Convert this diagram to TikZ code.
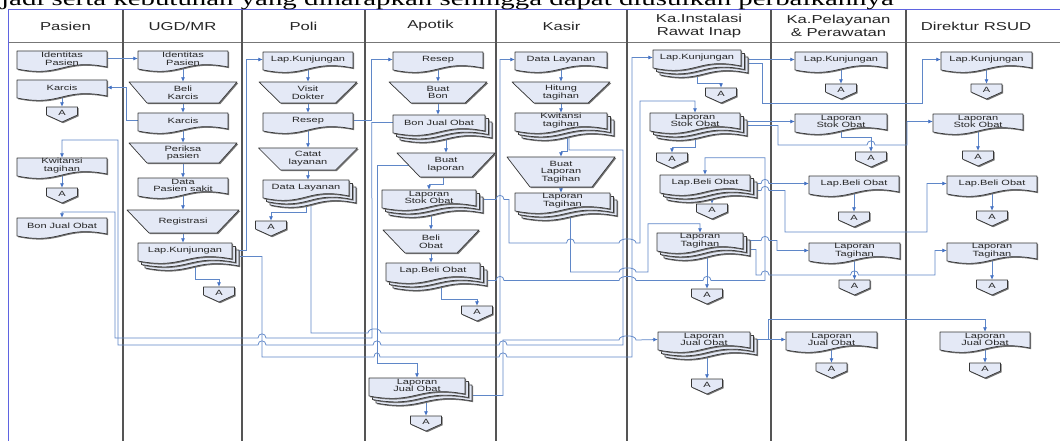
\documentclass[tikz,border=0pt]{standalone}
\usepackage{fontspec}
\setmainfont{Liberation Sans}
\newfontfamily\boxfont{Liberation Sans}[FakeStretch=1.45]
\newfontfamily\titlefont{Liberation Serif}[FakeStretch=1.45]
\usetikzlibrary{arrows.meta,calc}
\pgfdeclarelayer{back}
\pgfsetlayers{back,main}

\definecolor{flowblue}{RGB}{95,135,200}
\definecolor{tipblue}{RGB}{68,114,196}
\definecolor{shapefill}{RGB}{228,233,246}
\definecolor{shapeline}{RGB}{55,55,55}
\definecolor{lanegray}{RGB}{85,85,85}
\definecolor{borderblue}{RGB}{95,100,225}

\tikzset{
  outline/.style={draw=shapeline, line width=0.7pt, fill=shapefill, line join=round},
  shadowed/.style={fill=black!55, draw=none},
  boxtext/.style={font=\boxfont\fontsize{7.6}{7.8}\selectfont, text=black!85, align=center, inner sep=0pt},
  head/.style={font=\boxfont\fontsize{11.5}{12.5}\selectfont, text=black!85, align=center, inner sep=0pt},
  flow/.style={draw=flowblue, line width=0.75pt, -{Latex[length=4.5pt,width=4pt,color=tipblue]}},
  lane/.style={draw=lanegray, line width=1.1pt},
  hopover/.style args={#1/#2/#3}{insert path={-- (#1,#3) .. controls (#1,#3-5.5) and (#2,#3-5.5) .. (#2,#3)}},
}

% document symbol: top-left corner (#1,#2), width #3
\newcommand\docshape[3]{%
  \pgfmathsetmacro\shpXr{#1+#3}%
  \pgfmathsetmacro\shpXm{#1+0.5*#3}%
  \pgfmathsetmacro\shpYr{#2+16}%
  \pgfmathsetmacro\shpYl{#2+18}%
  \pgfmathsetmacro\shpYu{#2+7}%
  \pgfmathsetmacro\shpYd{#2+27}%
  \fill[shadowed,xshift=1.2pt,yshift=-1.2pt] (#1,#2) -- (\shpXr,#2) -- (\shpXr,\shpYr) .. controls (\shpXm,\shpYu) and (\shpXm,\shpYd) .. (#1,\shpYl) -- cycle;
  \path[outline] (#1,#2) -- (\shpXr,#2) -- (\shpXr,\shpYr) .. controls (\shpXm,\shpYu) and (\shpXm,\shpYd) .. (#1,\shpYl) -- cycle;
}
% single document: name, x0, y0, width, text
\newcommand\docnode[5]{%
  \docshape{#2}{#3}{#4}%
  \pgfmathsetmacro\shpXc{#2+0.5*#4}%
  \pgfmathsetmacro\shpYc{#3+7.5}%
  \node[boxtext,minimum width=#4pt,minimum height=15pt] (#1) at (\shpXc,\shpYc) {#5};%
}
% multiple documents
\newcommand\stackdoc[5]{%
  \pgfmathsetmacro\stkXb{#2+7}\pgfmathsetmacro\stkYb{#3+7}%
  \docshape{\stkXb}{\stkYb}{#4}%
  \pgfmathsetmacro\stkXa{#2+3.5}\pgfmathsetmacro\stkYa{#3+3.5}%
  \docshape{\stkXa}{\stkYa}{#4}%
  \docnode{#1}{#2}{#3}{#4}{#5}%
}
% manual operation: name, cx, top y, top width, bottom width, height, text
\newcommand\manualop[7]{%
  \pgfmathsetmacro\opXa{#2-0.5*#4}\pgfmathsetmacro\opXb{#2+0.5*#4}%
  \pgfmathsetmacro\opXc{#2+0.5*#5}\pgfmathsetmacro\opXd{#2-0.5*#5}%
  \pgfmathsetmacro\opYb{#3+#6}\pgfmathsetmacro\opYm{#3+0.5*#6}%
  \fill[shadowed,xshift=1.2pt,yshift=-1.2pt] (\opXa,#3) -- (\opXb,#3) -- (\opXc,\opYb) -- (\opXd,\opYb) -- cycle;
  \path[outline] (\opXa,#3) -- (\opXb,#3) -- (\opXc,\opYb) -- (\opXd,\opYb) -- cycle;
  \node[boxtext,minimum width=#5pt,minimum height=#6pt] (#1) at (#2,\opYm) {#7};%
}
% off-page connector: name, cx, top y
\newcommand\offpage[3]{%
  \pgfmathsetmacro\offXa{#2-15.5}\pgfmathsetmacro\offXb{#2+15.5}%
  \pgfmathsetmacro\offYs{#3+8}\pgfmathsetmacro\offYt{#3+15}\pgfmathsetmacro\offYm{#3+6}%
  \fill[shadowed,xshift=1.2pt,yshift=-1.2pt] (\offXa,#3) -- (\offXb,#3) -- (\offXb,\offYs) -- (#2,\offYt) -- (\offXa,\offYs) -- cycle;
  \path[outline] (\offXa,#3) -- (\offXb,#3) -- (\offXb,\offYs) -- (#2,\offYt) -- (\offXa,\offYs) -- cycle;
  \node[boxtext,minimum width=31pt,minimum height=12pt] (#1) at (#2,\offYm) {A};%
}

\begin{document}
\begin{tikzpicture}[x=1pt,y=-1pt]
\useasboundingbox (0,0) rectangle (1060,441);
\clip (0,0) rectangle (1060,441);

% ---------- swimlane frame ----------
\begin{pgfonlayer}{back}
  \fill[white] (0,0) rectangle (1060,441);
  \draw[lanegray!80, line width=0.8pt] (8,42) -- (1062,42);
  \foreach \x in {123,242,365,496,627,771,906}
    \draw[lane] (\x,10) -- (\x,443);
  \draw[borderblue, line width=1pt] (8,443) -- (8,10) -- (1062,10);
\end{pgfonlayer}

\node[anchor=base west, inner sep=0pt, font=\titlefont\fontsize{19.9}{21}\selectfont] (title) at (1,6)
  {jadi serta kebutuhan yang diharapkan sehingga dapat diusulkan perbaikannya};

\node[head] (hPasien) at (65.5,26) {Pasien};
\node[head] (hUGD) at (182.5,26) {UGD/MR};
\node[head] (hPoli) at (303.5,26) {Poli};
\node[head] (hApotik) at (430.5,26) {Apotik};
\node[head] (hKasir) at (561.5,26) {Kasir};
\node[head] (hInst) at (699,26) {Ka.Instalasi\\Rawat Inap};
\node[head] (hPel) at (838.5,26) {Ka.Pelayanan\\\& Perawatan};
\node[head] (hDir) at (976,26) {Direktur RSUD};

% ---------- Pasien ----------
\docnode{P1}{17}{51}{90}{Identitas\\Pasien}
\docnode{P2}{17}{80}{90}{Karcis}
\offpage{PA1}{62}{107}
\docnode{P3}{17}{158}{90}{Kwitansi\\tagihan}
\offpage{PA2}{62}{188}
\docnode{P4}{17}{218}{90}{Bon Jual Obat}

% ---------- UGD/MR ----------
\docnode{U1}{138}{51}{90}{Identitas\\Pasien}
\manualop{U2}{183}{82}{108}{72}{21}{Beli\\Karcis}
\docnode{U3}{138}{113}{90}{Karcis}
\manualop{U4}{183}{143}{108}{72}{20}{Periksa\\pasien}
\docnode{U5}{138}{178}{90}{Data\\Pasien sakit}
\manualop{U6}{183}{210}{112}{68}{23}{Registrasi}
\stackdoc{U7}{138}{243}{94}{Lap.Kunjungan}
\offpage{UA}{219}{287}

% ---------- Poli ----------
\docnode{O1}{263}{52}{90}{Lap.Kunjungan}
\manualop{O2}{308}{82}{98}{55}{21}{Visit\\Dokter}
\docnode{O3}{263}{113}{90}{Resep}
\manualop{O4}{308}{148}{99}{55}{22}{Catat\\layanan}
\stackdoc{O5}{263}{180}{86}{Data Layanan}
\offpage{OA}{271}{221}

% ---------- Apotik ----------
\docnode{R1}{393}{52}{90}{Resep}
\manualop{R2}{438}{82}{98}{54}{21}{Buat\\Bon}
\stackdoc{R3}{393}{115}{92}{Bon Jual Obat}
\manualop{R4}{446}{153}{98}{52}{24}{Buat\\laporan}
\stackdoc{R5}{382}{190}{94}{Laporan\\Stok Obat}
\manualop{R6}{431}{230}{96}{52}{23}{Beli\\Obat}
\stackdoc{R7}{386}{263}{94}{Lap.Beli Obat}
\offpage{RA1}{477}{306}
\stackdoc{R8}{369}{378}{96}{Laporan\\Jual Obat}
\offpage{RA2}{426}{416}

% ---------- Kasir ----------
\docnode{K1}{515}{52}{92}{Data Layanan}
\manualop{K2}{561}{82}{98}{54}{21}{Hitung\\tagihan}
\stackdoc{K3}{515}{113}{92}{Kwitansi\\tagihan}
\manualop{K4}{561}{157}{108}{62}{30}{Buat\\Laporan\\Tagihan}
\stackdoc{K5}{515}{193}{95}{Laporan\\Tagihan}

% ---------- Ka.Instalasi Rawat Inap ----------
\stackdoc{I1}{653}{50}{88}{Lap.Kunjungan}
\offpage{IA1}{721}{88}
\stackdoc{I2}{650}{113}{90}{Laporan\\Stok Obat}
\offpage{IA2}{672}{153}
\stackdoc{I3}{660}{175}{90}{Lap.Beli Obat}
\offpage{IA3}{712}{204}
\stackdoc{I4}{657}{233}{86}{Laporan\\Tagihan}
\offpage{IA4}{707}{289}
\stackdoc{I5}{658}{332}{92}{Laporan\\Jual Obat}
\offpage{IA5}{707}{379}

% ---------- Ka.Pelayanan & Perawatan ----------
\docnode{L1}{795}{52}{92}{Lap.Kunjungan}
\offpage{LA1}{841}{84}
\docnode{L2}{795}{114}{92}{Laporan\\Stok Obat}
\offpage{LA2}{871}{152}
\docnode{L3}{809}{176}{90}{Lap.Beli Obat}
\offpage{LA3}{854}{212}
\docnode{L4}{809}{243}{91}{Laporan\\Tagihan}
\offpage{LA4}{854.5}{280}
\docnode{L5}{786}{332}{91}{Laporan\\Jual Obat}
\offpage{LA5}{831.5}{363}

% ---------- Direktur RSUD ----------
\docnode{D1}{941}{52}{91}{Lap.Kunjungan}
\offpage{DA1}{986.5}{84}
\docnode{D2}{933}{114}{90}{Laporan\\Stok Obat}
\offpage{DA2}{978}{151}
\docnode{D3}{947}{176}{90}{Lap.Beli Obat}
\offpage{DA3}{992}{211}
\docnode{D4}{947}{243}{90}{Laporan\\Tagihan}
\offpage{DA4}{992}{280}
\docnode{D5}{940}{332}{90}{Laporan\\Jual Obat}
\offpage{DA5}{985}{363}

% ---------- connectors ----------
\begin{pgfonlayer}{back}
  % Pasien
  \draw[flow] (P2.south) -- (PA1.north);
  \draw[flow] (P3.south) -- (PA2.north);
  \draw[flow] (P1.east) -- (U1.west);
  \draw[flow] (U3.west) -- ++(-11,0) |- (P2.east);

  % UGD/MR
  \draw[flow] (U1.south) -- (U2.north);
  \draw[flow] (U2.south) -- (U3.north);
  \draw[flow] (U3.south) -- (U4.north);
  \draw[flow] (U4.south) -- (U5.north);
  \draw[flow] (U5.south) -- (U6.north);
  \draw[flow] (U6.south) -- (U6.south |- U7.north);
  \draw[flow] ($(U7.south)+(10,0)$) |- ($(UA.north)+(0,-7)$) -- (UA.north);
  \draw[flow] (U7.east) -| ($(O1.west)+(-16,0)$) -- (O1.west);
  \draw[flow] ($(U7.east)+(0,6)$) -| (262,357) [hopover=374/380/357] [hopover=499/507/357] -- (632,357) |- (I1.west);

  % Poli
  \draw[flow] (O1.south) -- (O2.north);
  \draw[flow] (O2.south) -- (O3.north);
  \draw[flow] (O3.south) -- (O4.north);
  \draw[flow] (O4.south) -- (O4.south |- O5.north);
  \draw[flow] (O5.south) |- ($(OA.north)+(0,-8)$) -- (OA.north);
  \draw[flow] (O3.east) -| ($(R1.west)+(-21,0)$) -- (R1.west);
  \draw[flow] ($(O5.south)+(5,0)$) -- (311,333) [hopover=368/381/333] -- (500,333) |- (K1.west);

  % Apotik
  \draw[flow] (R1.south) -- (R2.north);
  \draw[flow] (R2.south) -- (R2.south |- R3.north);
  \draw[flow] (R3.south -| R4.north) -- (R4.north);
  \draw[flow] ($(R4.south)+(-3,0)$) |- ($(R5.north)+(0,-5)$) -- (R5.north);
  \draw[flow] (R5.south -| R6.north) -- (R6.north);
  \draw[flow] (R6.south) -- (R6.south |- R7.north);
  \draw[flow] ($(R7.south)+(8,0)$) |- ($(RA1.north)+(0,-6)$) -- (RA1.north);
  \draw[flow] (R8.south -| RA2.north) -- (RA2.north);
  \draw[flow] (R3.west) -- ($(R3.west)+(-21,0)$) -- (372,338) [hopover=266/258/338] -- (115,338) -- (115,212) -| (P4.north);
  \draw[flow] (R4.center) -| (377,363) -| (R8.north);
  \draw[flow] ($(R8.east)+(3,10)$) -| (503,340) [hopover=619/636/340] -- (I5.west);
  \draw[flow] ($(R5.east)+(3,2)$) [hopover=496/504/199.5] -- (509,199.5) -- (509,243)
     [hopover=566.5/574.5/243] [hopover=619/636/243] -- (640,243) -- (640,101) -| (I2.north);
  \draw[flow] ($(R7.east)+(5,10)$) [hopover=496/504/280.5] [hopover=619/636/280.5] [hopover=703/711/280.5]
     -- (765,280.5) |- ($(I3.north)+(0,-17)$) -- (I3.north);

  % Kasir
  \draw[flow] (K1.south) -- (K2.north);
  \draw[flow] (K2.south) -- (K3.north);
  \draw[flow] ($(K3.south)+(6,0)$) |- ($(K4.north)+(0,-5)$) -- (K4.north);
  \draw[flow] (K4.south) -- (K4.south |- K5.north);
  \draw[flow] ($(K3.south)+(8,0)$) |- (623,150) -- (623,345) [hopover=507/499/345] [hopover=381/373/345]
     [hopover=266/258/345] -- (118,345) -- (118,140) -| (P3.north);
  \draw[flow] ($(K5.south)+(8,0)$) -- (570.5,272) [hopover=619/636/272] -- (648,272) |- ($(I4.north)+(0,-9)$) -- (I4.north);

  % Ka.Instalasi Rawat Inap
  \draw[flow] (I1.south) |- ($(IA1.north)+(0,-4)$) -- (IA1.north);
  \draw[flow] (I2.south) |- ($(IA2.north)+(0,-5)$) -- (IA2.north);
  \draw[flow] (I3.south -| IA3.north) -- (IA3.north);
  \draw[flow] (I4.south -| IA4.north) -- (IA4.north);
  \draw[flow] (I5.south -| IA5.north) -- (IA5.north);
  \draw[flow] (L1.west -| I1.east) -- (L1.west);
  \draw[flow] ($(I1.east)+(0,6)$) -| (762,103) -| ($(D1.west)+(-18,0)$) -- (D1.west);
  \draw[flow] (L2.west -| I2.east) -- (L2.west);
  \draw[flow] ($(I2.east)+(0,5)$) -| (778,145) [hopover=867/875/145] -- (907,145) |- (D2.west);
  \draw[flow] (L3.west -| I3.east) [hopover=761/769/183.5] -- (L3.west);
  \draw[flow] ($(I3.east)+(0,8)$) [hopover=761/769/190.5] -- (785,190.5) |- (927,232) |- (D3.west);
  \draw[flow] (I4.east) [hopover=761/769/240.5] -- (777,240.5) |- (L4.west);
  \draw[flow] ($(I4.east)+(0,9)$) -| (756,275) [hopover=761/769/275] [hopover=850.5/858.5/275] -- (935,275) |- (D4.west);
  \draw[flow] (L5.west -| I5.east) -- (L5.west);
  \draw[flow] ($(I5.east)+(18,0)$) |- ($(D5.north)+(0,-12)$) -- (D5.north);

  % Ka.Pelayanan & Perawatan
  \draw[flow] (L1.south) -- (LA1.north);
  \draw[flow] (L2.south) |- ($(LA2.north)+(0,-14)$) -- (LA2.north);
  \draw[flow] (L3.south) -- (LA3.north);
  \draw[flow] (L4.south) -- (LA4.north);
  \draw[flow] (L5.south) -- (LA5.north);

  % Direktur RSUD
  \draw[flow] (D1.south) -- (DA1.north);
  \draw[flow] (D2.south) -- (DA2.north);
  \draw[flow] (D3.south) -- (DA3.north);
  \draw[flow] (D4.south) -- (DA4.north);
  \draw[flow] (D5.south) -- (DA5.north);
\end{pgfonlayer}
\end{tikzpicture}
\end{document}
